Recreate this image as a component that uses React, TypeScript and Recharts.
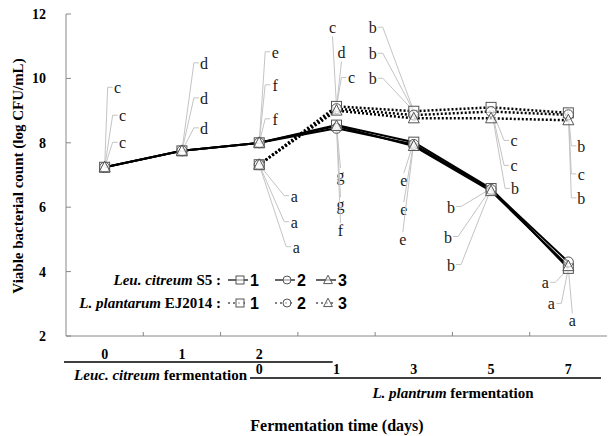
import React from 'react';
import { LineChart, Line, XAxis, YAxis, Legend } from 'recharts';

// category positions along the x axis (one per sampling point)
const positions = [0, 1, 2, 3, 4, 5, 6];
const leucDays = ['0', '1', '2'];
const plantDays = ['0', '1', '3', '5', '7'];
const yTicks = [2, 4, 6, 8, 10, 12];

// Leu. citreum S5 (solid lines)
const s5_1 = [7.24, 7.75, 8.0, 8.55, 8.02, 6.58, 4.1];
const s5_2 = [7.24, 7.75, 8.0, 8.45, 7.95, 6.55, 4.3];
const s5_3 = [7.24, 7.75, 8.0, 8.52, 7.9, 6.5, 4.17];

// L. plantarum EJ2014 (dotted lines)
const ej_1 = [null, null, 7.32, 9.13, 8.98, 9.1, 8.93];
const ej_2 = [null, null, 7.32, 9.06, 8.86, 8.97, 8.87];
const ej_3 = [null, null, 7.32, 9.0, 8.76, 8.76, 8.7];

// significance letters, strains 1..3 at each point
const s5Letters = [['c', 'c', 'c'], ['d', 'd', 'd'], ['e', 'f', 'f'], ['g', 'g', 'f'], ['e', 'e', 'e'], ['b', 'b', 'b'], ['a', 'a', 'a']];
const ejLetters = [null, null, ['a', 'a', 'a'], ['c', 'd', 'c'], ['b', 'b', 'b'], ['c', 'c', 'b'], ['b', 'c', 'b']];

const data = positions.map((t, i) => ({
  t,
  s5_1: s5_1[i], s5_2: s5_2[i], s5_3: s5_3[i],
  ej_1: ej_1[i], ej_2: ej_2[i], ej_3: ej_3[i],
}));

// label placement relative to the point: [dx, dy, side the leader attaches to]
type Off = [number, number, string];
const s5Offsets: Off[][] = [
  [[13, -78, 'l'], [18, -50, 'l'], [18, -23, 'l']],
  [[22, -86, 'l'], [22, -51, 'l'], [22, -21, 'l']],
  [[16, -89, 'l'], [16, -56, 'l'], [16, -22, 'l']],
  [[4, 52, 't'], [4, 81, 't'], [4, 107, 't']],
  [[-10, 40, 't'], [-10, 69, 't'], [-11, 99, 't']],
  [[-40, 20, 'r'], [-43, 50, 'r'], [-40, 78, 'r']],
  [[-23, 16, 'r'], [-17, 37, 'r'], [4, 54, 't']],
];
const ejOffsets: (Off[] | null)[] = [
  null,
  null,
  [[35, 33, 'l'], [35, 59, 'l'], [37, 84, 'l']],
  [[-4, -77, 'b'], [5, -52, 'b'], [15, -27, 'l']],
  [[-41, -82, 'r'], [-41, -56, 'r'], [-41, -31, 'r']],
  [[23, 35, 'l'], [23, 60, 'l'], [24, 83, 'l']],
  [[13, 35, 'l'], [13, 63, 'l'], [13, 87, 'l']],
];

const SERIF = '"Liberation Serif", "Times New Roman", serif';
const SANS = '"Liberation Sans", Arial, sans-serif';
const PLOT_W = 541;
const BAND = PLOT_W / 7;
const HALF = BAND / 2;
const FRAME = '#888';

const drawShape = (shape: string, cx: number, cy: number, r = 5) => {
  const st = { stroke: '#555', strokeWidth: 1, fill: '#fff', fillOpacity: 0.6 };
  if (shape === 'square') return <rect x={cx - r} y={cy - r} width={2 * r} height={2 * r} {...st} />;
  if (shape === 'circle') return <circle cx={cx} cy={cy} r={r} {...st} />;
  return <polygon points={`${cx},${cy - 1.2 * r} ${cx - 1.1 * r},${cy + 0.9 * r} ${cx + 1.1 * r},${cy + 0.9 * r}`} {...st} />;
};

const marker = (shape: string) => (props: any) => {
  const { cx, cy, index } = props;
  if (cx == null || cy == null || isNaN(cy)) return <g key={`m-${index}`} />;
  return <g key={`m-${index}`}>{drawShape(shape, cx, cy)}</g>;
};

const annotate = (letters: (string[] | null)[], offsets: (Off[] | null)[]) => (props: any) => {
  const { cx, cy, index } = props;
  const ls = letters[index];
  const os = offsets[index];
  if (!ls || !os || cx == null || cy == null || isNaN(cy)) return <g key={`a-${index}`} />;
  return (
    <g key={`a-${index}`}>
      {ls.map((l, j) => {
        const [dx, dy, side] = os[j];
        const lx = cx + dx;
        const ly = cy + dy;
        let d = '';
        if (side === 'l') d = `M${cx},${cy} L${lx - 10},${ly - 2} L${lx - 5},${ly - 2}`;
        else if (side === 'r') d = `M${cx},${cy} L${lx + 10},${ly - 2} L${lx + 5},${ly - 2}`;
        else if (side === 't') d = `M${cx},${cy} L${lx},${ly - 9}`;
        else d = `M${cx},${cy} L${lx},${ly + 7}`;
        return (
          <g key={j}>
            <path d={d} stroke="#c4c4c4" strokeWidth={1} fill="none" />
            <text x={lx} y={ly + 4} textAnchor="middle" fontFamily={SERIF} fontSize={16} fill="#1a1a1a">{l}</text>
          </g>
        );
      })}
    </g>
  );
};

const YTick = ({ x, y, payload }: any) => (
  <g>
    <line x1={x} y1={y} x2={x + 5} y2={y} stroke={FRAME} />
    <text x={x - 20} y={y + 5} textAnchor="end" fontFamily={SERIF} fontWeight="bold" fontSize={14} fill="#000">{payload.value}</text>
  </g>
);

const XTick = ({ x, y, payload }: any) => {
  const t = payload.value as number;
  return (
    <g>
      {t < 6 && <line x1={x + HALF} y1={y} x2={x + HALF} y2={y - 4} stroke={FRAME} />}
      {t < leucDays.length && (
        <text x={x} y={y + 23} textAnchor="middle" fontFamily={SERIF} fontWeight="bold" fontSize={14} fill="#000">{leucDays[t]}</text>
      )}
      {t >= 2 && (
        <text x={x} y={y + 38} textAnchor="middle" fontFamily={SERIF} fontWeight="bold" fontSize={14} fill="#000">{plantDays[t - 2]}</text>
      )}
    </g>
  );
};

const XCaption = ({ viewBox }: any) => {
  const { x, y } = viewBox;
  return (
    <g fontFamily={SERIF} fontWeight="bold" fill="#000">
      <line x1={x - 2} y1={y + 26} x2={x + 3.45 * BAND} y2={y + 26} stroke="#000" strokeWidth={1.5} />
      <text x={x + 181} y={y + 44} textAnchor="end" fontSize={15}>
        <tspan fontStyle="italic">Leuc. citreum</tspan> fermentation
      </text>
      <line x1={x + 2.38 * BAND} y1={y + 42} x2={x + 535} y2={y + 42} stroke="#000" strokeWidth={1.5} />
      <text x={x + 387} y={y + 62} textAnchor="middle" fontSize={15}>
        <tspan fontStyle="italic">L. plantrum</tspan> fermentation
      </text>
      <text x={x + 271} y={y + 95} textAnchor="middle" fontSize={16}>Fermentation time (days)</text>
    </g>
  );
};

const YCaption = () => (
  <text x={0} y={0} transform="translate(23,176) rotate(-90)" textAnchor="middle"
    fontFamily={SERIF} fontWeight="bold" fontSize={15} fill="#000">
    Viable bacterial count  (log CFU/mL)
  </text>
);

const s5Series = [
  { key: 's5_1', shape: 'square', name: '1' },
  { key: 's5_2', shape: 'circle', name: '2' },
  { key: 's5_3', shape: 'triangle', name: '3' },
];
const ejSeries = [
  { key: 'ej_1', shape: 'square', name: '1' },
  { key: 'ej_2', shape: 'circle', name: '2' },
  { key: 'ej_3', shape: 'triangle', name: '3' },
];

const legendCols = [180, 227, 268];

const renderLegend = () => (
  <svg width={300} height={48} style={{ display: 'block' }}>
    {[{ label: 'Leu. citreum', rest: ' S5 :', series: s5Series, dash: undefined, y: 14 },
      { label: 'L. plantarum', rest: ' EJ2014 :', series: ejSeries, dash: '2 3', y: 37 }].map((row) => (
      <g key={row.label}>
        <text x={161} y={row.y + 5} textAnchor="end" fontFamily={SERIF} fontWeight="bold" fontSize={15} fill="#000">
          <tspan fontStyle="italic">{row.label}</tspan>{row.rest}
        </text>
        {row.series.map((s, i) => {
          const cx = legendCols[i];
          return (
            <g key={s.key}>
              <line x1={cx - 12} y1={row.y} x2={cx + 8} y2={row.y} stroke="#000" strokeWidth={1.2} strokeDasharray={row.dash} />
              {drawShape(s.shape, cx, row.y, 4)}
              <text x={cx + 10} y={row.y + 6} fontFamily={SANS} fontWeight="bold" fontSize={16} fill="#000">{s.name}</text>
            </g>
          );
        })}
      </g>
    ))}
  </svg>
);

export default function App() {
  return (
    <div style={{ position: 'absolute', left: 0, top: 0, width: 608, height: 436, background: '#fff', fontFamily: SERIF }}>
      <LineChart width={608} height={436} data={data} margin={{ top: 14, right: 1, left: 0, bottom: 0 }}>
        <XAxis dataKey="t" type="number" domain={[-0.5, 6.5]} ticks={positions} interval={0}
          tick={<XTick />} tickLine={false} tickSize={0} tickMargin={0} height={100}
          axisLine={{ stroke: FRAME }} label={<XCaption />} />
        <XAxis xAxisId="top" dataKey="t" type="number" orientation="top" domain={[-0.5, 6.5]}
          tick={false} tickLine={false} height={0} axisLine={{ stroke: FRAME }} />
        <YAxis domain={[2, 12]} ticks={yTicks} interval={0} width={66} tick={<YTick />}
          tickLine={false} tickSize={0} tickMargin={0} axisLine={{ stroke: FRAME }} label={<YCaption />} />
        <YAxis yAxisId="right" orientation="right" domain={[2, 12]} width={0}
          tick={false} tickLine={false} axisLine={{ stroke: FRAME }} />
        <Legend layout="horizontal" verticalAlign="middle" align="center" content={renderLegend}
          wrapperStyle={{ left: 60, top: 266, width: 300, height: 48 }} />

        <Line dataKey="s5_1" stroke="none" legendType="none" dot={annotate(s5Letters, s5Offsets)}
          activeDot={false} isAnimationActive={false} />
        <Line dataKey="ej_1" stroke="none" legendType="none" dot={annotate(ejLetters, ejOffsets)}
          activeDot={false} isAnimationActive={false} />

        {ejSeries.map((s) => (
          <Line key={s.key} dataKey={s.key} stroke="#000" strokeWidth={2.5} strokeDasharray="2 2"
            dot={marker(s.shape)} activeDot={false} isAnimationActive={false} />
        ))}
        {s5Series.map((s) => (
          <Line key={s.key} dataKey={s.key} stroke="#000" strokeWidth={2} dot={marker(s.shape)}
            activeDot={false} isAnimationActive={false} />
        ))}
      </LineChart>
    </div>
  );
}
